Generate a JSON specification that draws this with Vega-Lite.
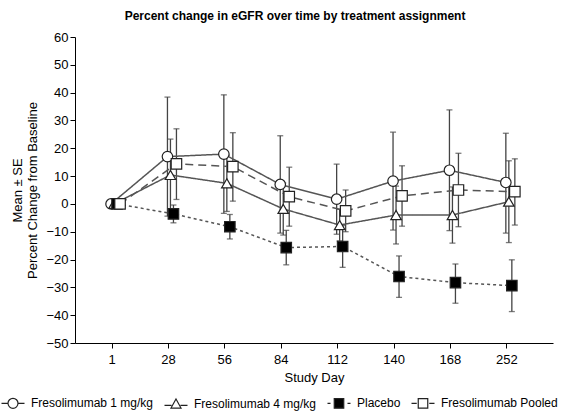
{
  "$schema": "https://vega.github.io/schema/vega-lite/v6.json",
  "width": 478,
  "height": 306,
  "autosize": "none",
  "padding": {"left": 75, "top": 37, "right": 11, "bottom": 73},
  "background": "white",
  "title": {"text": "Percent change in eGFR over time by treatment assignment", "font": "Liberation Sans", "fontSize": 12, "fontWeight": "bold", "color": "black", "anchor": "middle", "dx": -19, "offset": 8},
  "config": {
    "view": {"stroke": null},
    "axis": {"grid": false, "domainColor": "black", "tickColor": "black", "labelColor": "black", "titleColor": "black", "labelFont": "Liberation Sans", "titleFont": "Liberation Sans", "labelFontSize": 13, "titleFontSize": 13, "titleFontWeight": "normal", "tickSize": 5, "domainWidth": 1, "tickWidth": 1, "labelOverlap": false, "labelBound": false},
    "legend": {"labelFont": "Liberation Sans", "labelFontSize": 12, "labelColor": "black"}
  },
  "data": {"values": [
    {"group": "Fresolimumab 1 mg/kg", "day": "1", "mean": 0, "lo": null, "hi": null},
    {"group": "Fresolimumab 1 mg/kg", "day": "28", "mean": 17.0, "lo": -4.4, "hi": 38.4},
    {"group": "Fresolimumab 1 mg/kg", "day": "56", "mean": 17.9, "lo": -3.4, "hi": 39.2},
    {"group": "Fresolimumab 1 mg/kg", "day": "84", "mean": 7.0, "lo": -10.5, "hi": 24.5},
    {"group": "Fresolimumab 1 mg/kg", "day": "112", "mean": 1.7, "lo": -10.9, "hi": 14.3},
    {"group": "Fresolimumab 1 mg/kg", "day": "140", "mean": 8.2, "lo": -9.4, "hi": 25.8},
    {"group": "Fresolimumab 1 mg/kg", "day": "168", "mean": 12.1, "lo": -9.6, "hi": 33.8},
    {"group": "Fresolimumab 1 mg/kg", "day": "252", "mean": 7.7, "lo": -10.5, "hi": 25.4},
    {"group": "Fresolimumab 4 mg/kg", "day": "1", "mean": 0, "lo": null, "hi": null},
    {"group": "Fresolimumab 4 mg/kg", "day": "28", "mean": 10.4, "lo": -2.5, "hi": 23.3},
    {"group": "Fresolimumab 4 mg/kg", "day": "56", "mean": 7.4, "lo": -2.7, "hi": 17.5},
    {"group": "Fresolimumab 4 mg/kg", "day": "84", "mean": -1.8, "lo": -11.2, "hi": 7.5},
    {"group": "Fresolimumab 4 mg/kg", "day": "112", "mean": -7.6, "lo": -13.3, "hi": -1.9},
    {"group": "Fresolimumab 4 mg/kg", "day": "140", "mean": -4.0, "lo": -14.4, "hi": 6.4},
    {"group": "Fresolimumab 4 mg/kg", "day": "168", "mean": -4.0, "lo": -14.1, "hi": 6.1},
    {"group": "Fresolimumab 4 mg/kg", "day": "252", "mean": 0.8, "lo": -13.9, "hi": 15.5},
    {"group": "Placebo", "day": "1", "mean": 0, "lo": null, "hi": null},
    {"group": "Placebo", "day": "28", "mean": -3.6, "lo": -6.8, "hi": -0.4},
    {"group": "Placebo", "day": "56", "mean": -8.2, "lo": -12.6, "hi": -3.8},
    {"group": "Placebo", "day": "84", "mean": -15.7, "lo": -21.9, "hi": -9.5},
    {"group": "Placebo", "day": "112", "mean": -15.3, "lo": -22.8, "hi": -7.8},
    {"group": "Placebo", "day": "140", "mean": -26.1, "lo": -33.6, "hi": -18.7},
    {"group": "Placebo", "day": "168", "mean": -28.3, "lo": -35.7, "hi": -21.6},
    {"group": "Placebo", "day": "252", "mean": -29.4, "lo": -38.7, "hi": -20.1},
    {"group": "Fresolimumab Pooled", "day": "1", "mean": 0, "lo": null, "hi": null},
    {"group": "Fresolimumab Pooled", "day": "28", "mean": 14.4, "lo": 1.6, "hi": 27.0},
    {"group": "Fresolimumab Pooled", "day": "56", "mean": 13.4, "lo": 1.0, "hi": 25.6},
    {"group": "Fresolimumab Pooled", "day": "84", "mean": 2.6, "lo": -8.0, "hi": 13.2},
    {"group": "Fresolimumab Pooled", "day": "112", "mean": -2.5, "lo": -10.0, "hi": 5.0},
    {"group": "Fresolimumab Pooled", "day": "140", "mean": 2.9, "lo": -8.0, "hi": 13.7},
    {"group": "Fresolimumab Pooled", "day": "168", "mean": 5.0, "lo": -8.2, "hi": 18.2},
    {"group": "Fresolimumab Pooled", "day": "252", "mean": 4.4, "lo": -7.6, "hi": 16.2}
  ]},
  "encoding": {
    "x": {"field": "day", "type": "ordinal", "sort": ["1", "28", "56", "84", "112", "140", "168", "252"],
      "scale": {"type": "band", "paddingInner": 0, "paddingOuter": 0.2376, "align": 0.33},
      "axis": {"title": "Study Day", "labelAngle": 0, "labelPadding": 5, "titlePadding": 5}},
    "xOffset": {"field": "group", "type": "nominal",
      "scale": {"type": "point", "domain": ["Fresolimumab 1 mg/kg", "Fresolimumab 4 mg/kg", "Placebo", "Fresolimumab Pooled"], "range": [27.2, 36.2], "padding": 0}}
  },
  "layer": [
    {
      "mark": {"type": "rule", "color": "#444444", "strokeWidth": 1.3},
      "encoding": {
        "y": {"field": "lo", "type": "quantitative", "scale": {"domain": [-50, 60], "nice": false},
          "axis": {"title": ["Mean ± SE", "Percent Change from Baseline"], "values": [-50, -40, -30, -20, -10, 0, 10, 20, 30, 40, 50, 60], "tickCount": 20, "labelOverlap": false, "labelPadding": 2, "titlePadding": 6}},
        "y2": {"field": "hi"}
      }
    },
    {
      "mark": {"type": "tick", "color": "#444444", "thickness": 1.3, "size": 6},
      "encoding": {"y": {"field": "lo", "type": "quantitative"}}
    },
    {
      "mark": {"type": "tick", "color": "#444444", "thickness": 1.3, "size": 6},
      "encoding": {"y": {"field": "hi", "type": "quantitative"}}
    },
    {
      "mark": {"type": "line", "color": "#555555", "strokeWidth": 1.5},
      "encoding": {
        "y": {"field": "mean", "type": "quantitative"},
        "detail": {"field": "group"},
        "strokeDash": {"condition": [{"test": "datum.group === 'Placebo'", "value": [3, 3]}, {"test": "datum.group === 'Fresolimumab Pooled'", "value": [8, 5]}], "value": [1, 0]}
      }
    },
    {
      "mark": {"type": "point", "filled": true, "size": 110, "stroke": "#222222", "strokeWidth": 1.2, "opacity": 1},
      "encoding": {
        "y": {"field": "mean", "type": "quantitative"},
        "fill": {"condition": {"test": "datum.group === 'Placebo'", "value": "black"}, "value": "white"},
        "shape": {"condition": [{"test": "datum.group === 'Fresolimumab 1 mg/kg'", "value": "circle"}, {"test": "datum.group === 'Fresolimumab 4 mg/kg'", "value": "triangle-up"}], "value": "square"}
      }
    },
    {
      "mark": {"type": "point", "filled": true, "size": 100, "strokeWidth": 1.2, "opacity": 0},
      "encoding": {
        "y": {"field": "mean", "type": "quantitative"},
        "fill": {"field": "group", "type": "nominal",
          "scale": {"domain": ["Fresolimumab 1 mg/kg", "Fresolimumab 4 mg/kg", "Placebo", "Fresolimumab Pooled"], "range": ["white", "white", "black", "white"]},
          "legend": {"title": null}},
        "stroke": {"field": "group", "type": "nominal",
          "scale": {"domain": ["Fresolimumab 1 mg/kg", "Fresolimumab 4 mg/kg", "Placebo", "Fresolimumab Pooled"], "range": ["#222222", "#222222", "#222222", "#222222"]},
          "legend": {"title": null}},
        "shape": {"field": "group", "type": "nominal",
          "scale": {"domain": ["Fresolimumab 1 mg/kg", "Fresolimumab 4 mg/kg", "Placebo", "Fresolimumab Pooled"],
            "range": ["M-2.3,0H-1M1,0H2.3M-1,0A1,1,0,1,0,1,0A1,1,0,1,0,-1,0", "M-2.3,0.35H-0.9M0.9,0.35H2.3M0,-0.9L1,0.9H-1Z", "M-2.3,0H-1.7M1.7,0H2.3M-0.95,-0.95H0.95V0.95H-0.95Z", "M-2.3,0H-1.25M1.25,0H2.3M-0.95,-0.95H0.95V0.95H-0.95Z"]},
          "legend": {
            "title": null, "orient": "none", "legendX": -68, "legendY": 360, "direction": "horizontal", "columns": 4,
            "columnPadding": 8, "symbolSize": 100, "symbolOpacity": 1, "symbolStrokeWidth": 1.2, "labelOffset": 12, "labelFontSize": 12
          }}
      }
    }
  ]
}
